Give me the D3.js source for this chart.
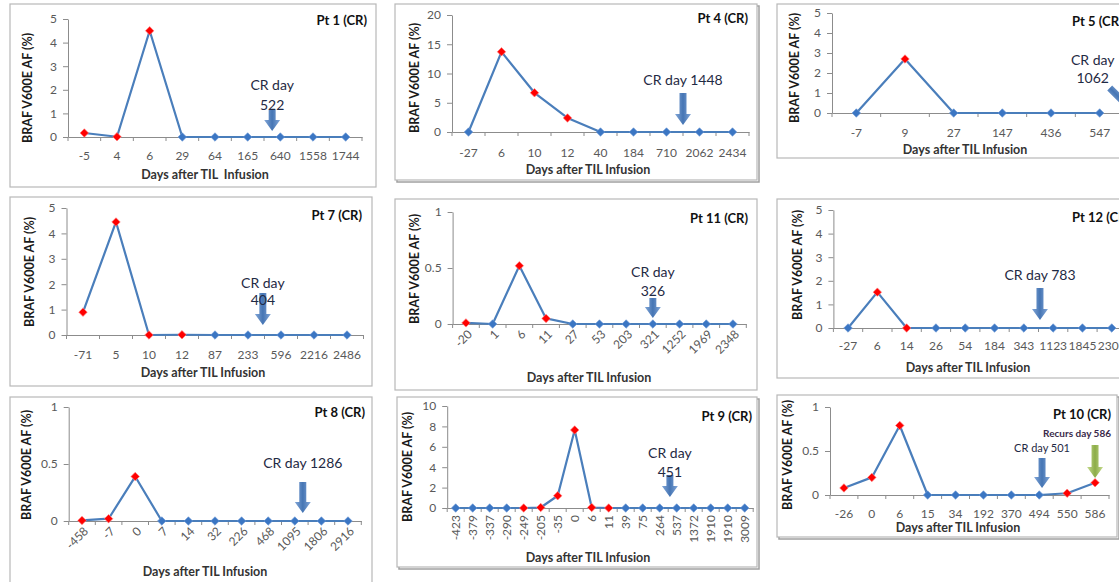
<!DOCTYPE html>
<html>
<head>
<meta charset="utf-8">
<script src="https://cdn.jsdelivr.net/npm/d3@7"></script>
<style>
    html, body { margin: 0; padding: 0; background: #fff; overflow: hidden; }
    svg { display: block; font-family: Lato, "Liberation Sans", sans-serif; }
</style>
</head>
<body>
<div id="chart"></div>
<script>
// ---- data (BRAF V600E allele fraction, % ; detected = red marker) ----
var pt1Days = ["-5", "4", "6", "29", "64", "165", "640", "1558", "1744"];
var pt1Af = [0.17, 0.01, 4.5, 0, 0, 0, 0, 0, 0];
var pt1Detected = [1, 1, 1, 0, 0, 0, 0, 0, 0];
var pt1YTicks = [0, 1, 2, 3, 4, 5];

var pt4Days = ["-27", "6", "10", "12", "40", "184", "710", "2062", "2434"];
var pt4Af = [0, 13.7, 6.7, 2.4, 0, 0, 0, 0, 0];
var pt4Detected = [0, 1, 1, 1, 0, 0, 0, 0, 0];
var pt4YTicks = [0, 5, 10, 15, 20];

var pt5Days = ["-7", "9", "27", "147", "436", "547"];
var pt5Af = [0, 2.7, 0, 0, 0, 0];
var pt5Detected = [0, 1, 0, 0, 0, 0];
var pt5YTicks = [0, 1, 2, 3, 4, 5];

var pt7Days = ["-71", "5", "10", "12", "87", "233", "596", "2216", "2486"];
var pt7Af = [0.9, 4.45, 0, 0.01, 0, 0, 0, 0, 0];
var pt7Detected = [1, 1, 1, 1, 0, 0, 0, 0, 0];
var pt7YTicks = [0, 1, 2, 3, 4, 5];

var pt11Days = ["-20", "1", "6", "11", "27", "53", "203", "321", "1252", "1969", "2348"];
var pt11Af = [0.01, 0, 0.52, 0.05, 0, 0, 0, 0, 0, 0, 0];
var pt11Detected = [1, 0, 1, 1, 0, 0, 0, 0, 0, 0, 0];
var pt11YTicks = [0, 0.5, 1];

var pt12Days = ["-27", "6", "14", "26", "54", "184", "343", "1123", "1845", "2305"];
var pt12Af = [0, 1.52, 0, 0, 0, 0, 0, 0, 0, 0];
var pt12Detected = [0, 1, 1, 0, 0, 0, 0, 0, 0, 0];
var pt12YTicks = [0, 1, 2, 3, 4, 5];

var pt8Days = ["-458", "-7", "0", "7", "14", "32", "226", "468", "1095", "1806", "2916"];
var pt8Af = [0.005, 0.02, 0.39, 0, 0, 0, 0, 0, 0, 0, 0];
var pt8Detected = [1, 1, 1, 0, 0, 0, 0, 0, 0, 0, 0];
var pt8YTicks = [0, 0.5, 1];

var pt9Days = ["-423", "-379", "-337", "-290", "-249", "-205", "-35", "0", "6", "11",
               "39", "75", "264", "537", "1372", "1910", "1910", "3009"];
var pt9Af = [0, 0, 0, 0, 0, 0.05, 1.2, 7.65, 0.05, 0, 0, 0, 0, 0, 0, 0, 0, 0];
var pt9Detected = [0, 0, 0, 0, 1, 1, 1, 1, 1, 1, 0, 0, 0, 0, 0, 0, 0, 0];
var pt9YTicks = [0, 2, 4, 6, 8, 10];

var pt10Days = ["-26", "0", "6", "15", "34", "192", "370", "494", "550", "586"];
var pt10Af = [0.08, 0.2, 0.79, 0, 0, 0, 0, 0, 0.02, 0.14];
var pt10Detected = [1, 1, 1, 0, 0, 0, 0, 0, 1, 1];
var pt10YTicks = [0, 0.5, 1];

// ---- layout ----
var W = 1119, H = 582;
var BLUE_LINE = "#4a7ebb", BLUE_MARK = "#3b76c3", RED_MARK = "#ff0000";
var TICK_FS = 12, TITLE_FS = 13, AXIS_FS = 12.5;

var panels = [
    { title: "Pt 1 (CR)", days: pt1Days, af: pt1Af, det: pt1Detected, yTicks: pt1YTicks,
      box: [10, 4, 366, 183], x0: 68, x1: 362, yBase: 137, yTop: 19, rot: 0, lab: 155,
      tEnd: [367, 20], xT: [205, 175], xTitle: "Days after TIL  Infusion", yT: [28, 88],
      notes: [{ at: 5.75, lines: ["CR day", "522"], ys: [85, 105], tail: 110, tip: 131 }] },
    { title: "Pt 4 (CR)", days: pt4Days, af: pt4Af, det: pt4Detected, yTicks: pt4YTicks,
      box: [395, 4, 362, 176], shadow: true, x0: 452, x1: 749, yBase: 132, yTop: 15, rot: 0, lab: 152,
      tEnd: [748, 18], xT: [588, 170], yT: [415, 78],
      notes: [{ at: 6.5, lines: ["CR day 1448"], ys: [80], tail: 93, tip: 125 }] },
    { title: "Pt 5 (CR)", titleStart: 1072, days: pt5Days, af: pt5Af, det: pt5Detected, yTicks: pt5YTicks,
      box: [777, 4, 360, 154], x0: 832, x1: 1124, yBase: 113, yTop: 13, rot: 0, lab: 132,
      tEnd: [1072, 21], xT: [965, 150], yT: [795, 68],
      notes: [{ at: 5.72, lines: ["CR day", "1062"], ys: [60, 78], tail: 88, tip: 113, tailDx: -25, textDx: -42 }] },
    { title: "Pt 7 (CR)", days: pt7Days, af: pt7Af, det: pt7Detected, yTicks: pt7YTicks,
      box: [10, 197, 362, 189], x0: 66.5, x1: 363.5, yBase: 335, yTop: 208, rot: 0, lab: 354,
      tEnd: [362, 215], xT: [203, 373], yT: [30, 272],
      notes: [{ at: 5.45, lines: ["CR day", "404"], ys: [283, 300], tail: 293, tip: 325 }] },
    { title: "Pt 11 (CR)", days: pt11Days, af: pt11Af, det: pt11Detected, yTicks: pt11YTicks,
      box: [395, 199, 362, 191], x0: 452.6, x1: 746.3, yBase: 324, yTop: 212, rot: 45,
      tEnd: [748, 218], xT: [589, 378], yT: [415, 269],
      notes: [{ at: 7, lines: ["CR day", "326"], ys: [272, 291], tail: 298, tip: 318 }] },
    { title: "Pt 12 (CR)", titleStart: 1072, days: pt12Days, af: pt12Af, det: pt12Detected, yTicks: pt12YTicks,
      box: [777, 199, 360, 179], x0: 833.4, x1: 1126.4, yBase: 328, yTop: 210, rot: 0, lab: 345,
      tEnd: [1072, 217], xT: [968, 368], yT: [798, 265],
      notes: [{ at: 6.55, lines: ["CR day 783"], ys: [275], tail: 288, tip: 320 }] },
    { title: "Pt 8 (CR)", days: pt8Days, af: pt8Af, det: pt8Detected, yTicks: pt8YTicks,
      box: [10, 397, 362, 200], x0: 68.7, x1: 361.3, yBase: 521, yTop: 407, rot: 45,
      tEnd: [365, 412], xT: [205, 572], yT: [27, 465],
      notes: [{ at: 8.3, lines: ["CR day 1286"], ys: [463], tail: 482, tip: 513 }] },
    { title: "Pt 9 (CR)", days: pt9Days, af: pt9Af, det: pt9Detected, yTicks: pt9YTicks,
      box: [397, 397, 360, 170], shadow: true, x0: 447.2, x1: 753.2, yBase: 508, yTop: 406, rot: 90,
      tEnd: [752, 416], xT: [588, 558], yT: [408, 467],
      notes: [{ at: 12.6, lines: ["CR day", "451"], ys: [453, 472], tail: 475, tip: 497 }] },
    { title: "Pt 10 (CR)", days: pt10Days, af: pt10Af, det: pt10Detected, yTicks: pt10YTicks,
      box: [777, 395, 340, 142], shadow: true, x0: 830, x1: 1109, yBase: 495, yTop: 407, rot: 0, lab: 513,
      tEnd: [1111, 414], xT: [958, 528], yT: [788, 455],
      notes: [
        { at: 7.1, lines: ["CR day 501"], ys: [448], tail: 458, tip: 488, size: 11 },
        { at: 9, lines: ["Recurs day 586"], ys: [433], tail: 445, tip: 478, size: 10,
          textDx: -18, green: true, color: "#3a2a4a" }
      ] }
];

var svg = d3.select("#chart").append("svg")
    .attr("width", W).attr("height", H)
    .attr("viewBox", "0 0 " + W + " " + H);

var defs = svg.append("defs");
addGrad("gBlue", "#7da3d6", "#3c6eb0");
addGrad("gGreen", "#c3da8a", "#86a83e");

function addGrad(id, light, dark) {
    var lg = defs.append("linearGradient").attr("id", id)
        .attr("x1", "0").attr("x2", "1").attr("y1", "0").attr("y2", "0");
    lg.append("stop").attr("offset", "0").attr("stop-color", light);
    lg.append("stop").attr("offset", "0.5").attr("stop-color", dark);
    lg.append("stop").attr("offset", "1").attr("stop-color", light);
}

panels.forEach(function(p) { drawPanel(p); });

function drawPanel(p) {
    var g = svg.append("g");
    var b = p.box;

    if (p.shadow) {
        g.append("rect")
            .attr("x", b[0] + 2).attr("y", b[1] + 2).attr("width", b[2]).attr("height", b[3])
            .attr("fill", "none").attr("stroke", "#a0a0a0").attr("stroke-width", 1.5);
    }
    g.append("rect")
        .attr("x", b[0]).attr("y", b[1]).attr("width", b[2]).attr("height", b[3])
        .attr("fill", "#fff").attr("stroke", "#b8b8b8").attr("stroke-width", 1.2);

    var n = p.days.length;
    var x = d3.scaleBand().domain(d3.range(n)).range([p.x0, p.x1]);
    var y = d3.scaleLinear().domain([0, d3.max(p.yTicks)]).range([p.yBase, p.yTop]);
    var bw = x.bandwidth();

    // y axis
    var ya = g.append("g")
        .attr("transform", "translate(" + p.x0 + ",0)")
        .call(d3.axisLeft(y).tickValues(p.yTicks).tickSize(5).tickSizeOuter(0)
            .tickPadding(6).tickFormat(d3.format("~g")));
    ya.select(".domain").attr("stroke", "#8c8c8c");
    ya.selectAll(".tick line").attr("stroke", "#8c8c8c");
    ya.selectAll("text").attr("fill", "#595959").style("font-size", TICK_FS + "px").style("font-family", "Lato");

    // x axis
    var pad = p.rot ? 0 : p.lab - p.yBase - 4;
    var xa = g.append("g")
        .attr("transform", "translate(0," + p.yBase + ")")
        .call(d3.axisBottom(x).tickSize(0).tickSizeOuter(0).tickPadding(pad)
            .tickFormat(function(i) { return p.days[i]; }));
    xa.select(".domain").attr("stroke", "#8c8c8c");
    xa.selectAll("text").attr("fill", "#595959").style("font-size", TICK_FS + "px").style("font-family", "Lato");
    if (p.rot === 45) {
        xa.selectAll("text").attr("y", 0).attr("dy", "0.35em").attr("text-anchor", "end")
            .attr("transform", "translate(4,8) rotate(-45)");
    } else if (p.rot === 90) {
        xa.selectAll("text").attr("y", 0).attr("dy", "0.35em").attr("text-anchor", "end")
            .attr("transform", "translate(0,7) rotate(-90)");
    }
    // tick marks between categories
    xa.selectAll(".bt").data(d3.range(n + 1)).enter().append("line")
        .attr("x1", function(i) { return i < n ? x(i) : x.range()[1]; })
        .attr("x2", function(i) { return i < n ? x(i) : x.range()[1]; })
        .attr("y1", 0).attr("y2", 4)
        .attr("stroke", "#8c8c8c");

    // series
    var line = d3.line()
        .x(function(d, i) { return x(i) + bw / 2; })
        .y(function(d) { return y(d); });
    g.append("path").datum(p.af)
        .attr("d", line)
        .attr("fill", "none").attr("stroke", BLUE_LINE).attr("stroke-width", 2.2)
        .attr("stroke-linejoin", "round");

    var sym = d3.symbol().type(d3.symbolSquare).size(36);
    g.selectAll(".mk").data(p.af).enter().append("path")
        .attr("d", sym)
        .attr("transform", function(d, i) {
            return "translate(" + (x(i) + bw / 2) + "," + y(d) + ") rotate(45)";
        })
        .attr("fill", function(d, i) { return p.det[i] ? RED_MARK : BLUE_MARK; })
        .attr("stroke", function(d, i) { return p.det[i] ? "#ff8080" : "#6b98d6"; })
        .attr("stroke-width", 0.6);

    // annotations (arrows first, text on top)
    p.notes.forEach(function(nt) {
        var tipX = x(0) + bw * (nt.at + 0.5);
        drawArrow(g, tipX + (nt.tailDx || 0), nt.tail, tipX, nt.tip, nt.green ? "url(#gGreen)" : "url(#gBlue)");
        nt.lines.forEach(function(t, k) {
            g.append("text")
                .attr("x", tipX + (nt.textDx || 0)).attr("y", nt.ys[k]).attr("dy", "0.35em")
                .attr("text-anchor", "middle")
                .attr("fill", nt.color || "#1f2a44")
                .style("font-size", (nt.size || 14) + "px")
                .style("font-weight", nt.green ? "bold" : "normal")
                .text(t);
        });
    });

    // titles
    g.append("text")
        .attr("x", p.titleStart || p.tEnd[0]).attr("y", p.tEnd[1]).attr("dy", "0.35em")
        .attr("text-anchor", p.titleStart ? "start" : "end")
        .attr("fill", "#111").style("font-size", TITLE_FS + "px").style("font-weight", "bold")
        .text(p.title);
    g.append("text")
        .attr("x", p.xT[0]).attr("y", p.xT[1]).attr("dy", "0.35em")
        .attr("text-anchor", "middle").attr("fill", "#333")
        .style("font-size", AXIS_FS + "px").style("font-weight", "bold").style("white-space", "pre")
        .text(p.xTitle || "Days after TIL Infusion");
    g.append("text")
        .attr("transform", "translate(" + p.yT[0] + "," + p.yT[1] + ") rotate(-90)")
        .attr("dy", "0.35em").attr("text-anchor", "middle").attr("fill", "#1a1a1a")
        .style("font-size", AXIS_FS + "px").style("font-weight", "bold")
        .text("BRAF V600E AF (%)");
}

function drawArrow(g, x1, y1, x2, y2, fill) {
    var dx = x2 - x1, dy = y2 - y1;
    var L = Math.sqrt(dx * dx + dy * dy);
    var ang = Math.atan2(dy, dx) * 180 / Math.PI - 90;
    var sw = 3.5, hw = 8, hl = 11;
    var d = "M" + (-sw) + ",0 L" + sw + ",0 L" + sw + "," + (L - hl) + " L" + hw + "," + (L - hl) +
        " L0," + L + " L" + (-hw) + "," + (L - hl) + " L" + (-sw) + "," + (L - hl) + " Z";
    g.append("path")
        .attr("d", d)
        .attr("transform", "translate(" + x1 + "," + y1 + ") rotate(" + ang + ")")
        .attr("fill", fill)
        .attr("opacity", 0.95);
}
</script>
</body>
</html>
